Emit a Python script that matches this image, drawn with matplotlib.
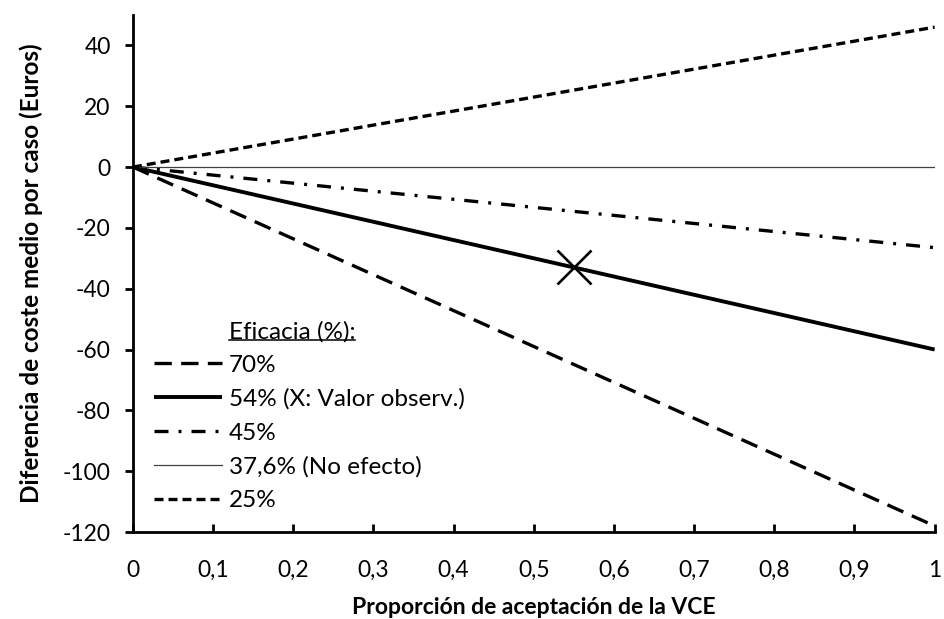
import matplotlib
matplotlib.use("Agg")
import matplotlib.pyplot as plt
from matplotlib.lines import Line2D
from matplotlib.ticker import FuncFormatter, MultipleLocator

plt.rcParams['font.family'] = ['Lato', 'DejaVu Sans']

# =========================
# DATA
# =========================
acceptance = [0, 1]
labels = ["70%", "54% (X: Valor observ.)", "45%", "37,6% (No efecto)", "25%"]
diff_70 = [0, -118]
diff_54 = [0, -60]
diff_45 = [0, -26.5]
diff_376 = [0, 0]
diff_25 = [0, 46]
observed_x = [0.55]
observed_y = [-33]

# =========================
# PLOT
# =========================
fig = plt.figure(figsize=(9.45, 6.19), dpi=100)
ax = fig.add_axes([0.1407, 0.1405, 0.8483, 0.8353])

l70, = ax.plot(acceptance, diff_70, color='black', lw=2.4, linestyle=(0, (5.2, 2.8)))
l54, = ax.plot(acceptance, diff_54, color='black', lw=2.8, solid_capstyle='butt')
l45, = ax.plot(acceptance, diff_45, color='black', lw=2.4, linestyle=(0, (4.2, 3, 0.9, 3)))
l376, = ax.plot(acceptance, diff_376, color='#404040', lw=0.9)
l25, = ax.plot(acceptance, diff_25, color='black', lw=2.4, linestyle=(0, (2.7, 1.5)))
ax.plot(observed_x, observed_y, marker='x', color='black', markersize=24,
        markeredgewidth=1.9, linestyle='none')

ax.set_xlim(0, 1)
ax.set_ylim(-120, 50)
ax.xaxis.set_major_locator(MultipleLocator(0.1))
ax.yaxis.set_major_locator(MultipleLocator(20))
ax.xaxis.set_major_formatter(FuncFormatter(
    lambda v, p: f"{int(round(v))}" if round(v, 3) in (0, 1) else f"{v:.1f}".replace('.', ',')))
ax.yaxis.set_major_formatter(FuncFormatter(lambda v, p: f"{int(round(v))}"))

for s in ['top', 'right']:
    ax.spines[s].set_visible(False)
for s in ['left', 'bottom']:
    ax.spines[s].set_linewidth(2.0)

ax.tick_params(axis='y', direction='out', length=6, width=2, labelsize=16.5, pad=10)
ax.tick_params(axis='x', direction='in', length=6, width=2, labelsize=16.5, pad=20)

ax.set_xlabel("Proporción de aceptación de la VCE", fontsize=16.5, fontweight='bold', labelpad=12)
ax.set_ylabel("Diferencia de coste medio por caso (Euros)", fontsize=17.5, fontweight='bold', labelpad=14)

# legend with a blank first entry as the title
blank = Line2D([], [], linestyle='none')
leg = ax.legend([blank, l70, l54, l45, l376, l25], ["Eficacia (%):"] + labels,
                loc='lower left', bbox_to_anchor=(0.0, 0.0), frameon=False,
                fontsize=17.5, handlelength=2.8, handletextpad=0.3, labelspacing=0.52,
                borderaxespad=0.45, borderpad=0.4)

# underline the legend title
fig.canvas.draw()
r = fig.canvas.get_renderer()
bb = leg.get_texts()[0].get_window_extent(r)
inv = fig.transFigure.inverted()
(x0, y0), (x1, _) = inv.transform([(bb.x0, bb.y0 + 2), (bb.x1, bb.y0 + 2)])
fig.add_artist(Line2D([x0, x1], [y0, y0], transform=fig.transFigure, color='black', lw=1.1))

fig.savefig("out.png", dpi=100)
